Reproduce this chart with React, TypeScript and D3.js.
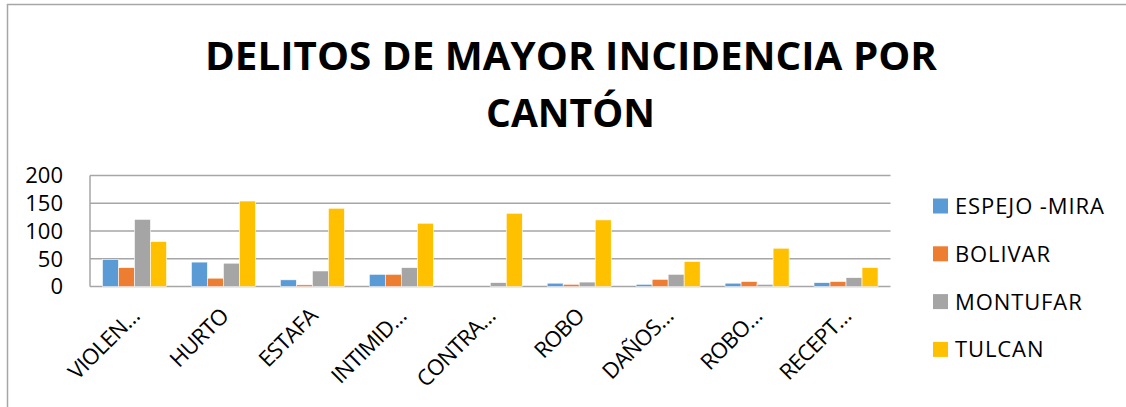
import React from "react";
import * as d3 from "d3";

const categories = ["VIOLEN…", "HURTO", "ESTAFA", "INTIMID…", "CONTRA…", "ROBO", "DAÑOS…", "ROBO…", "RECEPT…"];
const seriesNames = ["ESPEJO -MIRA", "BOLIVAR", "MONTUFAR", "TULCAN"];
const espejoMira = [49, 44, 12, 22, 0, 6, 4, 6, 7];
const bolivar = [34, 15, 3, 22, 0, 4, 13, 9, 9];
const montufar = [121, 42, 28, 34, 7, 8, 22, 4, 16];
const tulcan = [81, 154, 141, 114, 132, 120, 45, 69, 34];
const yTicks = [0, 50, 100, 150, 200];
const colors = ["#5B9BD5", "#ED7D31", "#A5A5A5", "#FFC000"];
const titleLines = ["DELITOS DE MAYOR INCIDENCIA POR", "CANTÓN"];

const seriesValues = [espejoMira, bolivar, montufar, tulcan];

export default function App() {
  const W = 1126, H = 407;
  const plotL = 90, plotR = 890.5, plotT = 175.5, plotB = 286.5;
  const y = d3.scaleLinear().domain([0, 200]).range([plotB, plotT]);
  const x0 = d3.scaleBand<string>().domain(categories).range([plotL, plotR]).paddingInner(0.28).paddingOuter(0.14);
  const x1 = d3.scaleBand<string>().domain(seriesNames).range([0, x0.bandwidth()]).padding(0);
  const font = "'Open Sans', sans-serif";

  return (
    <svg width={W} height={H} style={{ position: "absolute", left: 0, top: 0, background: "#fff" }}>
      <rect x={7.5} y={4.5} width={W + 10} height={H + 10} fill="#fff" stroke="#A6A6A6" strokeWidth={1.5} />
      <text x={571} y={70} textAnchor="middle" fontFamily={font} fontWeight="bold" fontSize={39} textLength={732} lengthAdjust="spacingAndGlyphs" fill="#000">{titleLines[0]}</text>
      <text x={570.5} y={127} textAnchor="middle" fontFamily={font} fontWeight="bold" fontSize={39} textLength={169} lengthAdjust="spacingAndGlyphs" fill="#000">{titleLines[1]}</text>
      {yTicks.map((t) => (
        <g key={t}>
          <line x1={plotL} x2={plotR} y1={y(t)} y2={y(t)} stroke="#A6A6A6" strokeWidth={1.5} />
          <text x={63} y={y(t)} dy="0.36em" textAnchor="end" fontFamily={font} fontSize={22} fill="#000">{t}</text>
        </g>
      ))}
      <line x1={plotL} x2={plotL} y1={plotT} y2={plotB} stroke="#A6A6A6" strokeWidth={1.5} />
      {categories.map((c, i) => (
        <g key={c + i} transform={`translate(${x0(c)},0)`}>
          {seriesNames.map((s, j) => {
            const v = seriesValues[j][i];
            if (v <= 0) return null;
            return (
              <rect key={s} x={x1(s)} y={y(v)} width={x1.bandwidth()} height={plotB - y(v)} fill={colors[j]} stroke="#fff" strokeWidth={0.6} />
            );
          })}
        </g>
      ))}
      {categories.map((c, i) => {
        const cx = (x0(c) as number) + x0.bandwidth() / 2 + 1;
        return (
          <text key={"l" + i} transform={`translate(${cx},312) rotate(-45)`} textAnchor="end" dy="0.35em" fontFamily={font} fontSize={22} letterSpacing={-0.6} fill="#000">{c}</text>
        );
      })}
      {seriesNames.map((s, j) => {
        const cy = 206 + j * 47.8;
        return (
          <g key={s}>
            <rect x={933} y={cy - 7.5} width={15} height={15} fill={colors[j]} />
            <text x={955} y={cy} dy="0.36em" fontFamily={font} fontSize={22} letterSpacing={0.9} fill="#000">{s}</text>
          </g>
        );
      })}
    </svg>
  );
}
